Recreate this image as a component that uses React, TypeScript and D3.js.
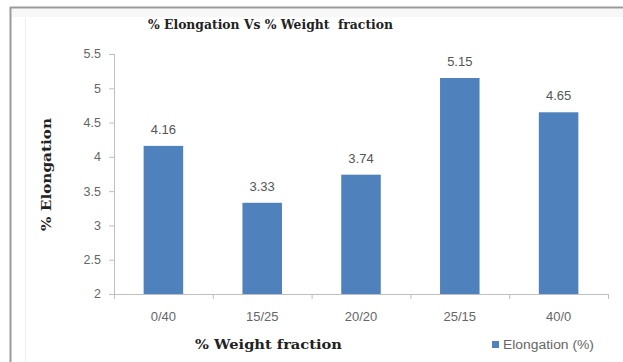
import React from "react";
import * as d3 from "d3";

const categories = ["0/40", "15/25", "20/20", "25/15", "40/0"];
const values = [4.16, 3.33, 3.74, 5.15, 4.65];
const yTicks = [2, 2.5, 3, 3.5, 4, 4.5, 5, 5.5];
const seriesName = "Elongation (%)";
const title = "% Elongation Vs % Weight  fraction";
const xTitle = "% Weight fraction";
const yTitle = "% Elongation";

const W = 623, H = 362;
const plot = { left: 114, right: 608, top: 54, bottom: 294 };
const barColor = "#4F81BD";
const sans = "'Liberation Sans', Arial, sans-serif";
const serif = "'DejaVu Serif', serif";

export default function App() {
  const x = d3.scaleBand<string>().domain(categories).range([plot.left, plot.right]).paddingInner(0.6).paddingOuter(0.3);
  const xb = d3.scaleBand<string>().domain(categories).range([plot.left, plot.right]);
  const y = d3.scaleLinear().domain([2, 5.5]).range([plot.bottom, plot.top]);

  return (
    <svg width={W} height={H} style={{ position: "absolute", left: 0, top: 0, background: "#fff" }}>
      <rect x={0} y={0} width={W} height={H} fill="#fff" />
      <line x1={10.5} y1={7} x2={10.5} y2={H} stroke="#9a9a9a" strokeWidth={2} />
      <line x1={10} y1={7.5} x2={W} y2={7.5} stroke="#9a9a9a" strokeWidth={2} />
      <line x1={25.5} y1={9} x2={25.5} y2={H} stroke="#eeeeee" strokeWidth={1} />
      <rect x={12} y={9} width={W - 12} height={8} fill="#f7f7f7" />
      <text x={148} y={29} textLength={245} lengthAdjust="spacingAndGlyphs" style={{ whiteSpace: "pre" }} fontFamily={serif} fontWeight="bold" fontSize={12} fill="#222">{title}</text>

      {/* y axis */}
      <line x1={plot.left + 0.5} y1={plot.top} x2={plot.left + 0.5} y2={plot.bottom} stroke="#bfbfbf" />
      {yTicks.map((t) => (
        <g key={t}>
          <line x1={plot.left - 5} x2={plot.left} y1={y(t) + 0.5} y2={y(t) + 0.5} stroke="#bfbfbf" />
          <text x={plot.left - 13} y={y(t)} dy="0.35em" textAnchor="end" fontFamily={sans} fontSize={12.5} fill="#666">{t}</text>
        </g>
      ))}

      {/* x axis */}
      <line x1={plot.left} y1={plot.bottom + 0.5} x2={plot.right} y2={plot.bottom + 0.5} stroke="#bfbfbf" />
      {[...categories.map((c) => xb(c) as number), plot.right].map((px, i) => (
        <line key={i} x1={px + 0.5} x2={px + 0.5} y1={plot.bottom} y2={plot.bottom + 5} stroke="#bfbfbf" />
      ))}
      {categories.map((c) => (
        <text key={c} x={(xb(c) as number) + xb.bandwidth() / 2} y={321} textAnchor="middle" fontFamily={sans} fontSize={13} fill="#666">{c}</text>
      ))}

      {/* bars */}
      {categories.map((c, i) => (
        <g key={c}>
          <rect x={x(c)} y={y(values[i])} width={x.bandwidth()} height={plot.bottom - y(values[i])} fill={barColor} />
          <text x={(x(c) as number) + x.bandwidth() / 2} y={y(values[i]) - 12} textAnchor="middle" fontFamily={sans} fontSize={13} fill="#555">{values[i].toFixed(2)}</text>
        </g>
      ))}

      <text x={195} y={349} textLength={147} lengthAdjust="spacingAndGlyphs" fontFamily={serif} fontWeight="bold" fontSize={13} fill="#222">{xTitle}</text>
      <text transform={`translate(51,231) rotate(-90)`} textLength={113} lengthAdjust="spacingAndGlyphs" fontFamily={serif} fontWeight="bold" fontSize={13} fill="#222">{yTitle}</text>

      {/* legend */}
      <rect x={492} y={341} width={7} height={7} fill={barColor} />
      <text x={503} y={349} textLength={91} lengthAdjust="spacingAndGlyphs" fontFamily={sans} fontSize={12.5} fill="#666">{seriesName}</text>
    </svg>
  );
}
